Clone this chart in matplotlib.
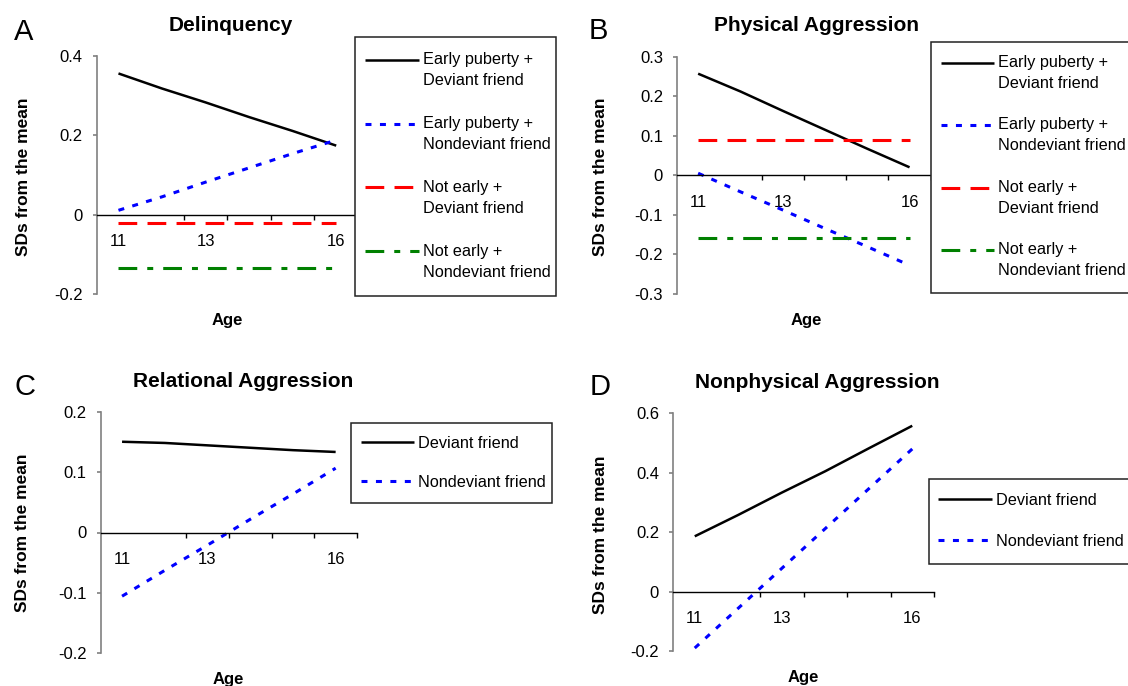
import numpy as np
import matplotlib
matplotlib.use("Agg")
import matplotlib.pyplot as plt
from matplotlib.legend_handler import HandlerLine2D
from matplotlib.patches import Rectangle
from matplotlib.ticker import FuncFormatter

plt.rcParams['font.family'] = ['Liberation Sans', 'DejaVu Sans']
plt.rcParams['axes.unicode_minus'] = False
plt.rcParams['lines.scale_dashes'] = False

W, H = 1128, 686
LEG_FS = 11.7

# data
ages = ['11', '12', '13', '14', '15', '16']
age_labels = ['11', '', '13', '', '', '16']

# A: delinquency
delinq_early_dev = [0.356, 0.318, 0.283, 0.246, 0.211, 0.174]
delinq_early_nondev = [0.011, 0.045, 0.082, 0.118, 0.154, 0.188]
delinq_late_dev = [-0.02, -0.02, -0.02, -0.02, -0.02, -0.02]
delinq_late_nondev = [-0.135, -0.135, -0.135, -0.135, -0.135, -0.135]

# B: physical aggression
phys_early_dev = [0.257, 0.212, 0.163, 0.115, 0.067, 0.02]
phys_early_nondev = [0.005, -0.042, -0.088, -0.135, -0.181, -0.228]
phys_late_dev = [0.09, 0.09, 0.09, 0.09, 0.09, 0.09]
phys_late_nondev = [-0.158, -0.158, -0.158, -0.158, -0.158, -0.158]

# C: relational aggression
rel_dev = [0.151, 0.149, 0.145, 0.141, 0.137, 0.134]
rel_nondev = [-0.106, -0.063, -0.021, 0.022, 0.064, 0.107]

# D: nonphysical aggression
nonphys_dev = [0.186, 0.258, 0.333, 0.405, 0.482, 0.558]
nonphys_nondev = [-0.19, -0.056, 0.078, 0.212, 0.346, 0.48]

four_labels = ['Early puberty +\nDeviant friend', 'Early puberty +\nNondeviant friend',
               'Not early +\nDeviant friend', 'Not early +\nNondeviant friend']
two_labels = ['Deviant friend', 'Nondeviant friend']

STYLES = {
    'black': dict(color='black', lw=1.8, solid_capstyle='butt'),
    'blue': dict(color='#0000ff', lw=2.2, dashes=(4.3, 6.1), dash_capstyle='butt'),
    'red': dict(color='#ff0000', lw=2.2, dashes=(13.5, 7.4), dash_capstyle='butt'),
    'green': dict(color='#008000', lw=2.2, dashes=(13.5, 7.2, 4.3, 7.2), dash_capstyle='butt'),
}


class FirstLineHandler(HandlerLine2D):
    # put the legend line next to the first text line, like excel does
    def __init__(self, shift, **kw):
        super().__init__(marker_pad=0, **kw)
        self.shift = shift

    def create_artists(self, legend, orig_handle, xdescent, ydescent, width, height, fontsize, trans):
        arts = super().create_artists(legend, orig_handle, xdescent, ydescent, width, height, fontsize, trans)
        for a in arts:
            a.set_ydata(np.asarray(a.get_ydata(), dtype=float) + self.shift)
        return arts


def ax_rect(l, t, r, b):
    return [l / W, 1 - b / H, (r - l) / W, (b - t) / H]


def style_axis(ax, yticks):
    x = np.arange(len(ages))
    ax.set_xlim(-0.5, len(ages) - 0.5)
    ax.set_ylim(yticks[0], yticks[-1])
    ax.spines['top'].set_visible(False)
    ax.spines['right'].set_visible(False)
    ax.spines['left'].set_color('#808080')
    ax.spines['left'].set_linewidth(1.2)
    ax.spines['bottom'].set_position(('data', 0))
    ax.spines['bottom'].set_linewidth(1.0)
    ax.set_yticks(yticks)
    ax.yaxis.set_major_formatter(FuncFormatter(lambda v, p: f'{v:g}'))
    ax.tick_params(axis='y', direction='out', length=3, width=1.2, color='#808080', pad=7, labelsize=12)
    ax.set_xticks(x)
    ax.set_xticklabels(age_labels)
    ax.set_xticks(x[1:] + 0.5, minor=True)
    ax.tick_params(axis='x', which='major', length=0, pad=14, labelsize=12)
    ax.tick_params(axis='x', which='minor', direction='out', length=3.6, width=1.0, color='black')
    ax.patch.set_alpha(0)


def add_legend(fig, lines, labels, box, anchor, labelspacing, two_line):
    x0, y0, x1, y1 = box
    fig.add_artist(Rectangle((x0 / W, 1 - y1 / H), (x1 - x0) / W, (y1 - y0) / H,
                             transform=fig.transFigure, facecolor='white',
                             edgecolor='#222222', lw=1.1, zorder=4))
    linesp = 1.5
    shift = 0.5 * (0.21 + 0.716 * linesp) * LEG_FS if two_line else 0
    hm = {ln: FirstLineHandler(shift) for ln in lines}
    leg = fig.legend(lines, labels, loc='upper left',
                     bbox_to_anchor=(anchor[0] / W, 1 - anchor[1] / H),
                     frameon=False, borderpad=0, borderaxespad=0, handlelength=3.3,
                     handletextpad=0.25, labelspacing=labelspacing, fontsize=LEG_FS,
                     handler_map=hm)
    leg.set_zorder(5)
    for t in leg.get_texts():
        t.set_linespacing(linesp)
    return leg


def panel_text(fig, letter, letter_xy, title, title_xy, ylab_xy, age_xy):
    fig.text(letter_xy[0] / W, 1 - letter_xy[1] / H, letter, fontsize=21, ha='left', va='baseline')
    fig.text(title_xy[0] / W, 1 - title_xy[1] / H, title, fontsize=15, fontweight='bold',
             ha='center', va='baseline')
    fig.text(ylab_xy[0] / W, 1 - ylab_xy[1] / H, 'SDs from the mean', fontsize=12.5,
             fontweight='bold', rotation=90, ha='center', va='center')
    fig.text(age_xy[0] / W, 1 - age_xy[1] / H, 'Age', fontsize=12, fontweight='bold',
             ha='center', va='baseline')


fig = plt.figure(figsize=(W / 100, H / 100), dpi=100)
x = np.arange(len(ages))

# A
axA = fig.add_axes(ax_rect(96.7, 56, 358, 294))
lA = [axA.plot(x, delinq_early_dev, **STYLES['black'])[0],
      axA.plot(x, delinq_early_nondev, **STYLES['blue'])[0],
      axA.plot(x, delinq_late_dev, **STYLES['red'])[0],
      axA.plot(x, delinq_late_nondev, **STYLES['green'])[0]]
style_axis(axA, [-0.2, 0, 0.2, 0.4])
add_legend(fig, lA, four_labels, (355, 37.3, 556, 296), (365, 51.7), 1.72, True)
panel_text(fig, 'A', (14, 40), 'Delinquency', (230.6, 31), (23.3, 177), (227, 325))

# B
axB = fig.add_axes(ax_rect(677, 56.7, 930.7, 293.7))
lB = [axB.plot(x, phys_early_dev, **STYLES['black'])[0],
      axB.plot(x, phys_early_nondev, **STYLES['blue'])[0],
      axB.plot(x, phys_late_dev, **STYLES['red'])[0],
      axB.plot(x, phys_late_nondev, **STYLES['green'])[0]]
style_axis(axB, [-0.3, -0.2, -0.1, 0, 0.1, 0.2, 0.3])
add_legend(fig, lB, four_labels, (930.7, 41.7, 1150, 293.3), (940.5, 55), 1.62, True)
panel_text(fig, 'B', (589, 39.3), 'Physical Aggression', (816, 31), (600.5, 177), (806, 325))

# C
axC = fig.add_axes(ax_rect(100.7, 412.3, 357, 652.7))
lC = [axC.plot(x, rel_dev, **STYLES['black'])[0],
      axC.plot(x, rel_nondev, **STYLES['blue'])[0]]
style_axis(axC, [-0.2, -0.1, 0, 0.1, 0.2])
add_legend(fig, lC, two_labels, (350.7, 423.3, 552, 503.3), (360.7, 436), 1.45, False)
panel_text(fig, 'C', (14, 395), 'Relational Aggression', (243, 387), (22.8, 533), (228.6, 683.6))

# D
axD = fig.add_axes(ax_rect(673, 413.3, 934, 651))
lD = [axD.plot(x, nonphys_dev, **STYLES['black'])[0],
      axD.plot(x, nonphys_nondev, **STYLES['blue'])[0]]
style_axis(axD, [-0.2, 0, 0.2, 0.4, 0.6])
add_legend(fig, lD, two_labels, (929.3, 479.3, 1150, 564), (938.4, 492.7), 1.62, False)
panel_text(fig, 'D', (590, 395), 'Nonphysical Aggression', (817, 388), (600.5, 535), (803, 682))

fig.savefig('out.png', dpi=100)
